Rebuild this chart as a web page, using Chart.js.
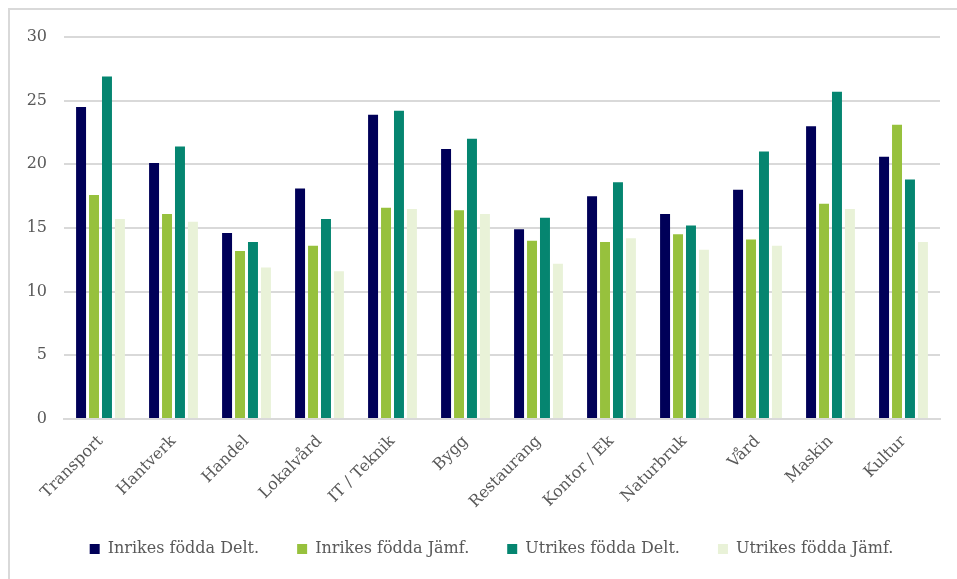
<!DOCTYPE html>
<html>
<head>
<meta charset="utf-8">
<script src="https://cdn.jsdelivr.net/npm/chart.js@4"></script>
<style>
  html, body { margin: 0; padding: 0; background: #ffffff; }
  #wrap { position: relative; width: 957px; height: 579px; }
  #frame { position: absolute; left: 8px; top: 8px; right: 0; bottom: 0; border-left: 2px solid #d9d9d9; border-top: 2px solid #d9d9d9; pointer-events: none; }
  canvas { position: absolute; left: 0; top: 0; }
</style>
</head>
<body>
<div id="wrap">
  <canvas id="c" width="957" height="579"></canvas>
  <div id="frame"></div>
</div>
<script>
const categories = ["Transport", "Hantverk", "Handel", "Lokalvård", "IT / Teknik", "Bygg", "Restaurang", "Kontor / Ek", "Naturbruk", "Vård", "Maskin", "Kultur"];
const seriesNames = ["Inrikes födda Delt.", "Inrikes födda Jämf.", "Utrikes födda Delt.", "Utrikes födda Jämf."];
const inrikesDelt = [24.5, 20.1, 14.6, 18.1, 23.9, 21.2, 14.9, 17.5, 16.1, 18.0, 23.0, 20.6];
const inrikesJamf = [17.6, 16.1, 13.2, 13.6, 16.6, 16.4, 14.0, 13.9, 14.5, 14.1, 16.9, 23.1];
const utrikesDelt = [26.9, 21.4, 13.9, 15.7, 24.2, 22.0, 15.8, 18.6, 15.2, 21.0, 25.7, 18.8];
const utrikesJamf = [15.7, 15.5, 11.9, 11.6, 16.5, 16.1, 12.2, 14.2, 13.3, 13.6, 16.5, 13.9];
const yTicks = [0, 5, 10, 15, 20, 25, 30];
const colors = ["#000058", "#97c13d", "#058570", "#e9f2d8"];

const fontFamily = "'DejaVu Serif', 'Liberation Serif', serif";
const textColor = "#595959";

const seriesData = [inrikesDelt, inrikesJamf, utrikesDelt, utrikesJamf];
const datasets = seriesNames.map((name, i) => ({
  label: name,
  data: seriesData[i],
  backgroundColor: colors[i],
  borderWidth: 0,
  categoryPercentage: 0.71,
  barPercentage: 0.77
}));

// let tick labels spill outside their scale boxes (rotated labels overlap the legend's padding area)
const noLabelClip = {
  id: 'noLabelClip',
  beforeDraw(chart) {
    Object.values(chart.scales).forEach(s => { s._computeLabelArea = () => undefined; });
  }
};

new Chart(document.getElementById('c'), {
  type: 'bar',
  data: { labels: categories, datasets: datasets },
  plugins: [noLabelClip],
  options: {
    responsive: false,
    animation: false,
    devicePixelRatio: 1,
    layout: { padding: { left: 43, right: 17, top: 37, bottom: 12 } },
    plugins: {
      tooltip: { enabled: false },
      legend: {
        position: 'bottom',
        labels: {
          color: textColor,
          font: { family: fontFamily, size: 16 },
          boxWidth: 10,
          boxHeight: 10,
          padding: 38
        }
      }
    },
    scales: {
      x: {
        grid: { display: false, drawTicks: false },
        border: { display: true, color: '#d9d9d9', width: 2 },
        ticks: {
          color: textColor,
          font: { family: fontFamily, size: 16 },
          minRotation: 45,
          maxRotation: 45,
          padding: 13,
          autoSkip: false
        },
        afterFit: (scale) => { scale.height = 84; }
      },
      y: {
        min: 0,
        max: 30,
        afterBuildTicks: (scale) => { scale.ticks = yTicks.map(v => ({ value: v })); },
        grid: { color: '#d9d9d9', lineWidth: 2, drawTicks: false },
        border: { display: false },
        ticks: {
          color: textColor,
          font: { family: fontFamily, size: 16 },
          padding: 17
        },
        afterFit: (scale) => { scale.width = 21; }
      }
    }
  }
});
</script>
</body>
</html>
